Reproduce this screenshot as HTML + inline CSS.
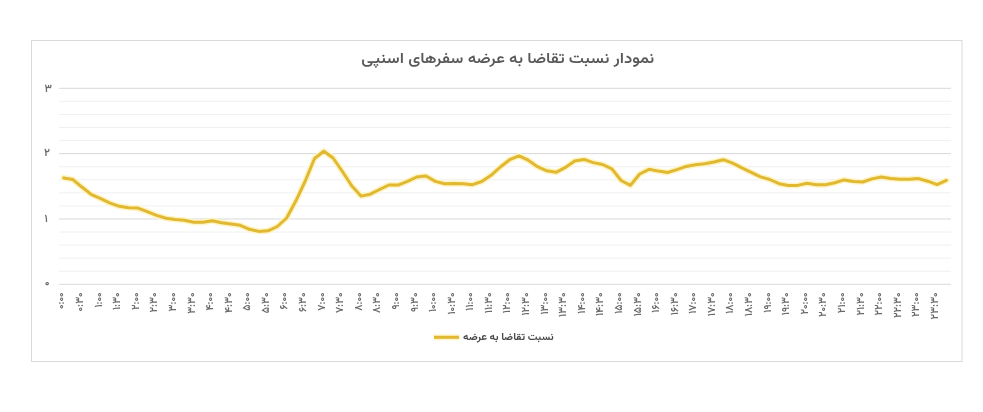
<!DOCTYPE html>
<html><head><meta charset="utf-8">
<style>
html,body{margin:0;padding:0;background:#fff;}
body{width:983px;height:412px;overflow:hidden;position:relative;}
svg{display:block;filter:blur(0.35px);}
.ax{font-family:"Vazirmatn","DejaVu Sans",sans-serif;font-size:11px;font-weight:600;fill:#6a6a6a;}
.title{position:absolute;left:0;top:0;font-family:"Vazirmatn","DejaVu Sans",sans-serif;font-size:15px;font-weight:560;color:#595959;direction:rtl;white-space:nowrap;line-height:20px;transform-origin:0 0;filter:blur(0.3px);}
.leg{position:absolute;left:0;top:0;font-family:"Vazirmatn","DejaVu Sans",sans-serif;font-size:10px;font-weight:700;color:#4a4a4a;direction:rtl;white-space:nowrap;line-height:14px;transform-origin:0 0;filter:blur(0.3px);}
</style></head><body>
<svg width="983" height="412" viewBox="0 0 983 412">
<rect x="0" y="0" width="983" height="412" fill="#fff"/>
<rect x="31.5" y="40.5" width="930.5" height="321" fill="#fff" stroke="#d9d9d9" stroke-width="1"/>
<line x1="59.0" x2="951.0" y1="88.30" y2="88.30" stroke="#d9d9d9" stroke-width="1"/>
<line x1="59.0" x2="951.0" y1="101.37" y2="101.37" stroke="#f0f0f0" stroke-width="1"/>
<line x1="59.0" x2="951.0" y1="114.43" y2="114.43" stroke="#f0f0f0" stroke-width="1"/>
<line x1="59.0" x2="951.0" y1="127.50" y2="127.50" stroke="#f0f0f0" stroke-width="1"/>
<line x1="59.0" x2="951.0" y1="140.57" y2="140.57" stroke="#f0f0f0" stroke-width="1"/>
<line x1="59.0" x2="951.0" y1="153.63" y2="153.63" stroke="#d9d9d9" stroke-width="1"/>
<line x1="59.0" x2="951.0" y1="166.70" y2="166.70" stroke="#f0f0f0" stroke-width="1"/>
<line x1="59.0" x2="951.0" y1="179.77" y2="179.77" stroke="#f0f0f0" stroke-width="1"/>
<line x1="59.0" x2="951.0" y1="192.83" y2="192.83" stroke="#f0f0f0" stroke-width="1"/>
<line x1="59.0" x2="951.0" y1="205.90" y2="205.90" stroke="#f0f0f0" stroke-width="1"/>
<line x1="59.0" x2="951.0" y1="218.97" y2="218.97" stroke="#d9d9d9" stroke-width="1"/>
<line x1="59.0" x2="951.0" y1="232.03" y2="232.03" stroke="#f0f0f0" stroke-width="1"/>
<line x1="59.0" x2="951.0" y1="245.10" y2="245.10" stroke="#f0f0f0" stroke-width="1"/>
<line x1="59.0" x2="951.0" y1="258.17" y2="258.17" stroke="#f0f0f0" stroke-width="1"/>
<line x1="59.0" x2="951.0" y1="271.23" y2="271.23" stroke="#f0f0f0" stroke-width="1"/>
<line x1="59.0" x2="951.0" y1="284.30" y2="284.30" stroke="#d9d9d9" stroke-width="1"/>
<text x="44.5" y="91.8" class="ax">۳</text>
<text x="44.0" y="156.3" class="ax">۲</text>
<text x="44.5" y="222.1" class="ax">۱</text>
<text x="44.8" y="286.3" class="ax">۰</text>
<text transform="translate(64.45,292.4) rotate(-90) scale(0.94,1)" text-anchor="end" class="ax">۰:۰۰</text>
<text transform="translate(83.03,292.4) rotate(-90) scale(0.94,1)" text-anchor="end" class="ax">۰:۳۰</text>
<text transform="translate(101.61,292.4) rotate(-90) scale(0.94,1)" text-anchor="end" class="ax">۱:۰۰</text>
<text transform="translate(120.20,292.4) rotate(-90) scale(0.94,1)" text-anchor="end" class="ax">۱:۳۰</text>
<text transform="translate(138.78,292.4) rotate(-90) scale(0.94,1)" text-anchor="end" class="ax">۲:۰۰</text>
<text transform="translate(157.36,292.4) rotate(-90) scale(0.94,1)" text-anchor="end" class="ax">۲:۳۰</text>
<text transform="translate(175.95,292.4) rotate(-90) scale(0.94,1)" text-anchor="end" class="ax">۳:۰۰</text>
<text transform="translate(194.53,292.4) rotate(-90) scale(0.94,1)" text-anchor="end" class="ax">۳:۳۰</text>
<text transform="translate(213.11,292.4) rotate(-90) scale(0.94,1)" text-anchor="end" class="ax">۴:۰۰</text>
<text transform="translate(231.70,292.4) rotate(-90) scale(0.94,1)" text-anchor="end" class="ax">۴:۳۰</text>
<text transform="translate(250.28,292.4) rotate(-90) scale(0.94,1)" text-anchor="end" class="ax">۵:۰۰</text>
<text transform="translate(268.86,292.4) rotate(-90) scale(0.94,1)" text-anchor="end" class="ax">۵:۳۰</text>
<text transform="translate(287.45,292.4) rotate(-90) scale(0.94,1)" text-anchor="end" class="ax">۶:۰۰</text>
<text transform="translate(306.03,292.4) rotate(-90) scale(0.94,1)" text-anchor="end" class="ax">۶:۳۰</text>
<text transform="translate(324.61,292.4) rotate(-90) scale(0.94,1)" text-anchor="end" class="ax">۷:۰۰</text>
<text transform="translate(343.20,292.4) rotate(-90) scale(0.94,1)" text-anchor="end" class="ax">۷:۳۰</text>
<text transform="translate(361.78,292.4) rotate(-90) scale(0.94,1)" text-anchor="end" class="ax">۸:۰۰</text>
<text transform="translate(380.36,292.4) rotate(-90) scale(0.94,1)" text-anchor="end" class="ax">۸:۳۰</text>
<text transform="translate(398.95,292.4) rotate(-90) scale(0.94,1)" text-anchor="end" class="ax">۹:۰۰</text>
<text transform="translate(417.53,292.4) rotate(-90) scale(0.94,1)" text-anchor="end" class="ax">۹:۳۰</text>
<text transform="translate(436.11,292.4) rotate(-90) scale(0.94,1)" text-anchor="end" class="ax">۱۰:۰۰</text>
<text transform="translate(454.70,292.4) rotate(-90) scale(0.94,1)" text-anchor="end" class="ax">۱۰:۳۰</text>
<text transform="translate(473.28,292.4) rotate(-90) scale(0.94,1)" text-anchor="end" class="ax">۱۱:۰۰</text>
<text transform="translate(491.86,292.4) rotate(-90) scale(0.94,1)" text-anchor="end" class="ax">۱۱:۳۰</text>
<text transform="translate(510.45,292.4) rotate(-90) scale(0.94,1)" text-anchor="end" class="ax">۱۲:۰۰</text>
<text transform="translate(529.03,292.4) rotate(-90) scale(0.94,1)" text-anchor="end" class="ax">۱۲:۳۰</text>
<text transform="translate(547.61,292.4) rotate(-90) scale(0.94,1)" text-anchor="end" class="ax">۱۳:۰۰</text>
<text transform="translate(566.20,292.4) rotate(-90) scale(0.94,1)" text-anchor="end" class="ax">۱۳:۳۰</text>
<text transform="translate(584.78,292.4) rotate(-90) scale(0.94,1)" text-anchor="end" class="ax">۱۴:۰۰</text>
<text transform="translate(603.36,292.4) rotate(-90) scale(0.94,1)" text-anchor="end" class="ax">۱۴:۳۰</text>
<text transform="translate(621.95,292.4) rotate(-90) scale(0.94,1)" text-anchor="end" class="ax">۱۵:۰۰</text>
<text transform="translate(640.53,292.4) rotate(-90) scale(0.94,1)" text-anchor="end" class="ax">۱۵:۳۰</text>
<text transform="translate(659.11,292.4) rotate(-90) scale(0.94,1)" text-anchor="end" class="ax">۱۶:۰۰</text>
<text transform="translate(677.70,292.4) rotate(-90) scale(0.94,1)" text-anchor="end" class="ax">۱۶:۳۰</text>
<text transform="translate(696.28,292.4) rotate(-90) scale(0.94,1)" text-anchor="end" class="ax">۱۷:۰۰</text>
<text transform="translate(714.86,292.4) rotate(-90) scale(0.94,1)" text-anchor="end" class="ax">۱۷:۳۰</text>
<text transform="translate(733.45,292.4) rotate(-90) scale(0.94,1)" text-anchor="end" class="ax">۱۸:۰۰</text>
<text transform="translate(752.03,292.4) rotate(-90) scale(0.94,1)" text-anchor="end" class="ax">۱۸:۳۰</text>
<text transform="translate(770.61,292.4) rotate(-90) scale(0.94,1)" text-anchor="end" class="ax">۱۹:۰۰</text>
<text transform="translate(789.20,292.4) rotate(-90) scale(0.94,1)" text-anchor="end" class="ax">۱۹:۳۰</text>
<text transform="translate(807.78,292.4) rotate(-90) scale(0.94,1)" text-anchor="end" class="ax">۲۰:۰۰</text>
<text transform="translate(826.36,292.4) rotate(-90) scale(0.94,1)" text-anchor="end" class="ax">۲۰:۳۰</text>
<text transform="translate(844.95,292.4) rotate(-90) scale(0.94,1)" text-anchor="end" class="ax">۲۱:۰۰</text>
<text transform="translate(863.53,292.4) rotate(-90) scale(0.94,1)" text-anchor="end" class="ax">۲۱:۳۰</text>
<text transform="translate(882.11,292.4) rotate(-90) scale(0.94,1)" text-anchor="end" class="ax">۲۲:۰۰</text>
<text transform="translate(900.70,292.4) rotate(-90) scale(0.94,1)" text-anchor="end" class="ax">۲۲:۳۰</text>
<text transform="translate(919.28,292.4) rotate(-90) scale(0.94,1)" text-anchor="end" class="ax">۲۳:۰۰</text>
<text transform="translate(937.86,292.4) rotate(-90) scale(0.94,1)" text-anchor="end" class="ax">۲۳:۳۰</text>
<path d="M63.65,177.90 L72.94,179.60 L82.23,187.30 L91.52,194.60 L100.81,198.70 L110.10,203.10 L119.40,206.30 L128.69,207.70 L137.98,208.10 L147.27,211.60 L156.56,215.40 L165.85,218.20 L175.15,219.40 L184.44,220.20 L193.73,222.30 L203.02,222.30 L212.31,220.80 L221.60,222.70 L230.90,223.90 L240.19,225.30 L249.48,229.30 L258.77,231.40 L268.06,230.80 L277.35,226.50 L286.65,218.00 L295.94,200.80 L305.23,181.00 L314.52,158.50 L323.81,151.20 L333.10,158.00 L342.40,171.50 L351.69,185.70 L360.98,196.10 L370.27,194.20 L379.56,189.50 L388.85,185.00 L398.15,185.10 L407.44,181.40 L416.73,177.00 L426.02,176.00 L435.31,181.40 L444.60,183.70 L453.90,183.50 L463.19,183.70 L472.48,184.70 L481.77,181.50 L491.06,175.30 L500.35,167.00 L509.65,159.70 L518.94,155.80 L528.23,160.20 L537.52,166.70 L546.81,170.80 L556.10,172.30 L565.40,167.40 L574.69,160.90 L583.98,159.40 L593.27,162.60 L602.56,164.50 L611.85,168.90 L621.15,180.50 L630.44,185.30 L639.73,174.00 L649.02,169.30 L658.31,171.10 L667.60,172.50 L676.90,169.60 L686.19,166.40 L695.48,164.80 L704.77,163.80 L714.06,162.00 L723.35,159.70 L732.65,163.10 L741.94,167.90 L751.23,172.40 L760.52,176.90 L769.81,179.50 L779.10,183.70 L788.40,185.40 L797.69,185.40 L806.98,183.30 L816.27,184.70 L825.56,184.70 L834.85,182.70 L844.15,179.90 L853.44,181.40 L862.73,182.00 L872.02,178.90 L881.31,177.00 L890.60,178.60 L899.90,179.20 L909.19,179.30 L918.48,178.60 L927.77,181.20 L937.06,184.60 L946.35,180.40" fill="none" stroke="#fff4c4" stroke-width="6" stroke-linejoin="round" stroke-linecap="round"/>
<path d="M63.65,177.90 L72.94,179.60 L82.23,187.30 L91.52,194.60 L100.81,198.70 L110.10,203.10 L119.40,206.30 L128.69,207.70 L137.98,208.10 L147.27,211.60 L156.56,215.40 L165.85,218.20 L175.15,219.40 L184.44,220.20 L193.73,222.30 L203.02,222.30 L212.31,220.80 L221.60,222.70 L230.90,223.90 L240.19,225.30 L249.48,229.30 L258.77,231.40 L268.06,230.80 L277.35,226.50 L286.65,218.00 L295.94,200.80 L305.23,181.00 L314.52,158.50 L323.81,151.20 L333.10,158.00 L342.40,171.50 L351.69,185.70 L360.98,196.10 L370.27,194.20 L379.56,189.50 L388.85,185.00 L398.15,185.10 L407.44,181.40 L416.73,177.00 L426.02,176.00 L435.31,181.40 L444.60,183.70 L453.90,183.50 L463.19,183.70 L472.48,184.70 L481.77,181.50 L491.06,175.30 L500.35,167.00 L509.65,159.70 L518.94,155.80 L528.23,160.20 L537.52,166.70 L546.81,170.80 L556.10,172.30 L565.40,167.40 L574.69,160.90 L583.98,159.40 L593.27,162.60 L602.56,164.50 L611.85,168.90 L621.15,180.50 L630.44,185.30 L639.73,174.00 L649.02,169.30 L658.31,171.10 L667.60,172.50 L676.90,169.60 L686.19,166.40 L695.48,164.80 L704.77,163.80 L714.06,162.00 L723.35,159.70 L732.65,163.10 L741.94,167.90 L751.23,172.40 L760.52,176.90 L769.81,179.50 L779.10,183.70 L788.40,185.40 L797.69,185.40 L806.98,183.30 L816.27,184.70 L825.56,184.70 L834.85,182.70 L844.15,179.90 L853.44,181.40 L862.73,182.00 L872.02,178.90 L881.31,177.00 L890.60,178.60 L899.90,179.20 L909.19,179.30 L918.48,178.60 L927.77,181.20 L937.06,184.60 L946.35,180.40" fill="none" stroke="#e0b832" stroke-width="3" stroke-linejoin="round" stroke-linecap="round"/>
<line x1="433.5" x2="459.5" y1="337.3" y2="337.3" stroke="#fff4c4" stroke-width="6"/>
<line x1="434" x2="459" y1="337.3" y2="337.3" stroke="#e0b832" stroke-width="3"/>
</svg>
<div class="title" style="transform:translate(361.3px,49.6px) scaleX(1.116)">نمودار نسبت تقاضا به عرضه سفرهای اسنپی</div>
<div class="leg" style="transform:translate(463px,330.8px) scaleX(1.07)">نسبت تقاضا به عرضه</div>
<script>
(function(){
  function fit(el, w0, s0, tx, ty){
    if(!el) return; var w = el.offsetWidth;
    if(w > 0 && Math.abs(w - w0) > 2){ el.style.transform = 'translate(' + tx + 'px,' + ty + 'px) scaleX(' + (s0 * w0 / w) + ')'; }
  }
  fit(document.querySelector('.title'), 262, 1.116, 361.3, 49.6);
  fit(document.querySelector('.leg'), 85, 1.07, 463, 330.8);
})();
</script>
</body></html>
